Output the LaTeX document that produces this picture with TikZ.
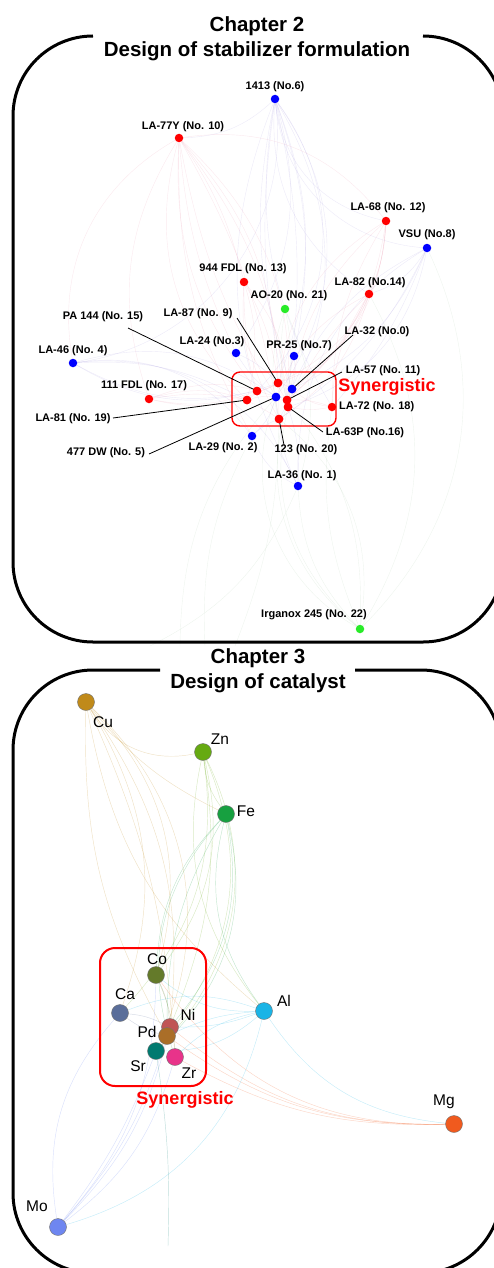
\documentclass[tikz,border=0pt]{standalone}
\usepackage{fontspec}
\setmainfont{Liberation Sans}
\usetikzlibrary{backgrounds}
\definecolor{synred}{RGB}{255,0,0}
\definecolor{dred}{RGB}{255,0,0}
\definecolor{dblue}{RGB}{0,0,255}
\definecolor{dgreen}{RGB}{40,235,40}
\definecolor{wr}{RGB}{220,80,120}
\definecolor{wb}{RGB}{110,90,200}
\definecolor{wg}{RGB}{120,170,120}
\definecolor{cCu}{RGB}{192,138,26}
\definecolor{cZn}{RGB}{102,170,17}
\definecolor{cFe}{RGB}{23,160,64}
\definecolor{cCo}{RGB}{100,122,42}
\definecolor{cCa}{RGB}{90,110,154}
\definecolor{cNi}{RGB}{192,85,85}
\definecolor{cPd}{RGB}{170,110,40}
\definecolor{cSr}{RGB}{0,122,112}
\definecolor{cZr}{RGB}{232,51,138}
\definecolor{cAl}{RGB}{26,180,230}
\definecolor{cMg}{RGB}{240,90,30}
\definecolor{cMo}{RGB}{110,134,240}
\begin{document}
\begin{tikzpicture}[x=1pt,y=-1pt,
  frame/.style={line width=3pt, line join=round},
  dot/.style={circle, inner sep=0pt, minimum size=8.5pt},
  lab/.style={font=\fontsize{11}{13}\selectfont\bfseries, inner sep=0pt},
  lead/.style={line width=0.8pt},
  title/.style={font=\fontsize{20.5}{25}\selectfont\bfseries, align=center, inner sep=0pt},
  syn/.style={font=\fontsize{18}{21}\selectfont\bfseries, text=synred, inner sep=0pt},
  el/.style={circle, inner sep=0pt, minimum size=17pt, draw=black!55, line width=0.4pt},
  ellab/.style={font=\fontsize{15.5}{18}\selectfont, inner sep=0pt},
  web/.style={line width=0.4pt, opacity=0.13},
  eweb/.style={line width=0.45pt, opacity=0.25},
  synbox/.style={draw=synred, line width=1.4pt},
]
\useasboundingbox (0,0) rectangle (494,1268);

% ---------------- frames ----------------
\draw[frame, rounded corners=80pt] (93,36) -- (13,36) -- (13,642) -- (503,642) -- (503,36) -- (423,36);
\draw[frame, rounded corners=80pt] (160,670) -- (13,670) -- (13,1273) -- (501,1273) -- (501,670) -- (355,670);

\node[title] (t2) at (257,38.5) {Chapter 2\\Design of stabilizer formulation};
\node[title] (t3) at (258,671) {Chapter 3\\Design of catalyst};

% ---------------- chapter 2 nodes ----------------
\node[dot, fill=dblue] (n6) at (275,99) {};
\node[dot, fill=dred] (n10) at (179,138) {};
\node[dot, fill=dred] (n12) at (386,221) {};
\node[dot, fill=dblue] (n8) at (427,248) {};
\node[dot, fill=dred] (n13) at (244,282) {};
\node[dot, fill=dred] (n14) at (369,294) {};
\node[dot, fill=dgreen] (n21) at (285,309) {};
\node[dot, fill=dblue] (n3) at (236,353) {};
\node[dot, fill=dblue] (n7) at (294,356) {};
\node[dot, fill=dblue] (n4) at (73,363) {};
\node[dot, fill=dred] (n9) at (278,383) {};
\node[dot, fill=dblue] (n0) at (292,389) {};
\node[dot, fill=dred] (n15) at (257,391) {};
\node[dot, fill=dred] (n17) at (149,399) {};
\node[dot, fill=dred] (n19) at (247,400) {};
\node[dot, fill=dblue] (n5) at (276,397) {};
\node[dot, fill=dred] (n11) at (287,400) {};
\node[dot, fill=dred] (n16) at (288,407) {};
\node[dot, fill=dred] (n18) at (332,407) {};
\node[dot, fill=dred] (n20) at (279,419) {};
\node[dot, fill=dblue] (n2) at (252,436) {};
\node[dot, fill=dblue] (n1) at (298,486) {};
\node[dot, fill=dgreen] (n22) at (360,629) {};

\coordinate (f1) at (150,646);
\coordinate (f2) at (205,646);
\coordinate (f3) at (235,646);
\coordinate (f4) at (180,646);

\begin{scope}[on background layer]
\foreach \a/\b/\c/\bd in {
 n6/n9/wb/20, n6/n11/wb/10, n6/n16/wb/-10, n6/n20/wb/30, n6/n1/wb/-25, n6/n7/wb/15, n6/n0/wb/-15, n6/n3/wb/25,
 n6/n14/wb/-30, n6/n12/wb/-35, n6/n8/wb/-40, n6/n18/wb/-20, n6/n5/wb/35, n6/n15/wb/40, n6/n10/wb/20, n6/n4/wb/45,
 n10/n15/wr/-20, n10/n19/wr/-30, n10/n9/wr/20, n10/n11/wr/15, n10/n5/wr/-10, n10/n20/wr/10, n10/n2/wr/-15,
 n10/n13/wr/10, n10/n3/wr/-10, n10/n17/wr/-25, n10/n4/wr/-35, n10/n16/wr/25, n10/n12/wr/30,
 n12/n11/wr/20, n12/n16/wr/-20, n12/n18/wr/-15, n12/n14/wr/10, n12/n0/wr/25, n12/n9/wr/30, n12/n20/wr/-30,
 n8/n0/wb/20, n8/n11/wb/-20, n8/n18/wb/10, n8/n16/wb/30, n8/n1/wb/-30, n8/n14/wb/20, n8/n20/wb/15,
 n14/n11/wr/10, n14/n16/wr/-10, n14/n20/wr/20, n14/n18/wr/-15, n14/n9/wr/25, n14/n5/wr/-20,
 n13/n9/wr/10, n13/n15/wr/-10, n13/n19/wr/15, n13/n20/wr/-15, n13/n11/wr/20,
 n21/n11/wg/10, n21/n16/wg/-10, n21/n1/wg/20, n21/n20/wg/-15,
 n4/n15/wb/-20, n4/n19/wb/15, n4/n5/wb/25, n4/n9/wb/-25, n4/n2/wb/30, n4/n1/wb/35,
 n17/n19/wr/10, n17/n15/wr/-15, n17/n5/wr/20, n17/n9/wr/-20, n17/n20/wr/25,
 n22/n1/wg/20, n22/n11/wg/-20, n22/n16/wg/30, n22/n20/wg/-30, n22/n18/wg/15, n22/n0/wg/35,
 n22/n5/wg/40, n22/n8/wg/-35, n22/n14/wg/-30,
 n3/n9/wb/10, n3/n5/wb/-10, n7/n0/wb/10, n7/n11/wb/-10, n2/n20/wb/10, n2/n5/wb/-15, n1/n20/wb/10,
 n1/n16/wb/-10, n1/n2/wb/20, n18/n16/wr/10, n18/n11/wr/-10, n18/n0/wr/15, n15/n19/wr/10, n15/n9/wr/-10,
 n9/n0/wr/10, n9/n11/wr/-10, n5/n11/wb/10, n5/n20/wb/-10, n19/n5/wr/10,
 n1/f1/wg/20, n2/f2/wg/-15, n20/f3/wg/10, n5/f4/wg/-20}
 \draw[web, draw=\c] (\a) to[bend left=\bd] (\b);
\end{scope}

% synergistic box chapter 2
\draw[synbox, rounded corners=8pt] (232,372) rectangle (336,426);
\node[syn] (s2) at (387,387) {Synergistic};

% labels chapter 2
\node[lab] (L6) at (275,87) {1413 (No.6)};
\node[lab] (L10) at (183,127) {LA-77Y (No. 10)};
\node[lab] (L12) at (388,208) {LA-68 (No. 12)};
\node[lab] (L8) at (427,235) {VSU (No.8)};
\node[lab] (L13) at (243,269) {944 FDL (No. 13)};
\node[lab] (L14) at (370,283) {LA-82 (No.14)};
\node[lab] (L21) at (289,296) {AO-20 (No. 21)};
\node[lab] (L15) at (103,317) {PA 144 (No. 15)};
\node[lab] (L9) at (198,314) {LA-87 (No. 9)};
\node[lab] (L0) at (377,332) {LA-32 (No.0)};
\node[lab] (L3) at (212,342) {LA-24 (No.3)};
\node[lab] (L7) at (299,346) {PR-25 (No.7)};
\node[lab] (L4) at (73,351) {LA-46 (No. 4)};
\node[lab] (L11) at (383,371) {LA-57 (No. 11)};
\node[lab] (L17) at (144,386) {111 FDL (No. 17)};
\node[lab, anchor=west] (L18) at (339,407) {LA-72 (No. 18)};
\node[lab] (L19) at (73,419) {LA-81 (No. 19)};
\node[lab] (L16) at (365,433) {LA-63P (No.16)};
\node[lab] (L5) at (106,453) {477 DW (No. 5)};
\node[lab] (L2) at (223,448) {LA-29 (No. 2)};
\node[lab] (L20) at (306,450) {123 (No. 20)};
\node[lab] (L1) at (302,476) {LA-36 (No. 1)};
\node[lab] (L22) at (314,615) {Irganox 245 (No. 22)};

% leader lines
\coordinate (p15) at (128,328);
\coordinate (p9) at (237,318);
\coordinate (p0) at (353,335);
\coordinate (p11) at (342,372);
\coordinate (p19) at (113,418);
\coordinate (p5) at (149,454);
\coordinate (p16) at (323,432);
\coordinate (p20) at (284,445);
\draw[lead] (p15) -- (n15.center);
\draw[lead] (p9) -- (n9.center);
\draw[lead] (p0) -- (n0.center);
\draw[lead] (p11) -- (n11.center);
\draw[lead] (p19) -- (n19.center);
\draw[lead] (p5) -- (n5.center);
\draw[lead] (p16) -- (n16.center);
\draw[lead] (p20) -- (n20.center);
% redraw dots on top of leaders
\foreach \n/\c in {n15/dred, n9/dred, n0/dblue, n11/dred, n19/dred, n5/dblue, n16/dred, n20/dred}
  \fill[\c] (\n.center) circle (4.25pt);

% ---------------- chapter 3 ----------------
\node[el, fill=cCu] (Cu) at (86,702) {};
\node[el, fill=cZn] (Zn) at (203,752) {};
\node[el, fill=cFe] (Fe) at (226,814) {};
\node[el, fill=cCo] (Co) at (156,975) {};
\node[el, fill=cCa] (Ca) at (120,1013) {};
\node[el, fill=cAl] (Al) at (264,1011) {};
\node[el, fill=cNi] (Ni) at (170,1027) {};
\node[el, fill=cPd] (Pd) at (167,1036) {};
\node[el, fill=cSr] (Sr) at (156,1051) {};
\node[el, fill=cZr] (Zr) at (175,1057) {};
\node[el, fill=cMg] (Mg) at (454,1124) {};
\node[el, fill=cMo] (Mo) at (58,1227) {};
\coordinate (f5) at (168,1246);

\begin{scope}[on background layer]
\foreach \a/\b/\c/\bd in {
 Cu/Zn/cCu/-35, Cu/Fe/cCu/-12, Cu/Co/cCu/30, Cu/Ni/cCu/20, Cu/Sr/cCu/35, Cu/Ca/cCu/25, Cu/Pd/cCu/-15,
 Cu/Al/cCu/-20, Cu/Zr/cCu/10,
 Zn/Fe/cZn/-15, Zn/Co/cZn/25, Zn/Ni/cZn/15, Zn/Pd/cZn/30, Zn/Sr/cZn/35, Zn/Al/cZn/-25, Zn/Ca/cZn/25,
 Fe/Co/cFe/-20, Fe/Ni/cFe/25, Fe/Pd/cFe/-15, Fe/Al/cFe/-25, Fe/Sr/cFe/30, Fe/Zr/cFe/-30,
 Al/Co/cAl/20, Al/Ca/cAl/-20, Al/Ni/cAl/10, Al/Pd/cAl/-10, Al/Sr/cAl/20, Al/Zr/cAl/-15, Al/Mg/cAl/-25, Al/Mo/cAl/30,
 Mg/Ni/cMg/20, Mg/Pd/cMg/18, Mg/Zr/cMg/15, Mg/Co/cMg/28,
 Mo/Ni/cMo/-15, Mo/Pd/cMo/-12, Mo/Sr/cMo/-8, Mo/Zr/cMo/-18, Mo/Ca/cMo/25, Mo/Co/cMo/-20,
 Co/Ni/cCo/10, Ca/Ni/cCa/10, Ca/Pd/cCa/-10, Co/Zr/cCo/10, Sr/f5/cSr/5}
 \draw[eweb, draw=\c] (\a) to[bend left=\bd] (\b);
\end{scope}

\node[ellab] (lCu) at (103,722) {Cu};
\node[ellab] (lZn) at (220,739) {Zn};
\node[ellab] (lFe) at (246,811) {Fe};
\node[ellab] (lCo) at (157,959) {Co};
\node[ellab] (lCa) at (125,994) {Ca};
\node[ellab] (lNi) at (188,1015) {Ni};
\node[ellab] (lPd) at (147,1032) {Pd};
\node[ellab] (lSr) at (138,1066) {Sr};
\node[ellab] (lZr) at (189,1073) {Zr};
\node[ellab] (lAl) at (284,1001) {Al};
\node[ellab] (lMg) at (444,1102) {Mg};
\node[ellab] (lMo) at (37,1206) {Mo};

\draw[synbox, line width=2pt, rounded corners=15pt] (100,948) rectangle (206,1086);
\node[syn] (s3) at (185,1100) {Synergistic};
\end{tikzpicture}
\end{document}
